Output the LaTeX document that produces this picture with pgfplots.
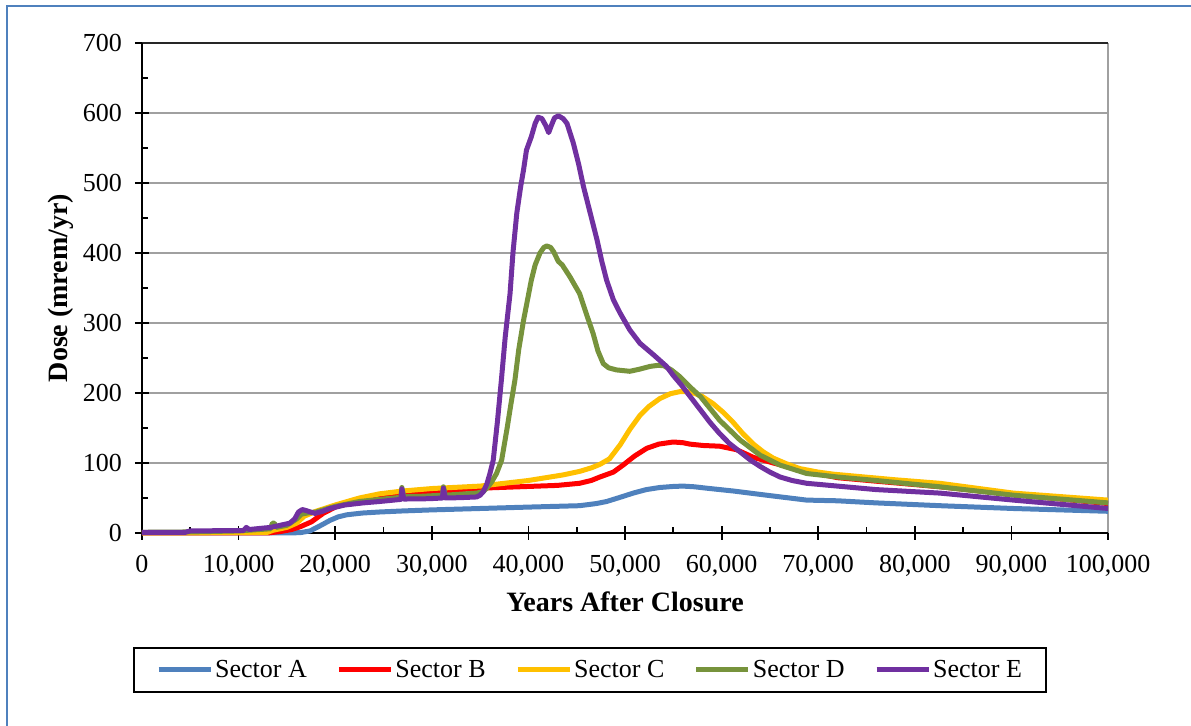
\documentclass[border=0pt]{standalone}
\usepackage{fontspec}
\setmainfont{Liberation Serif}
\usepackage{pgfplots}
\pgfplotsset{compat=1.18}
\definecolor{cA}{HTML}{4F81BD}
\definecolor{cB}{HTML}{FF0000}
\definecolor{cC}{HTML}{FFC000}
\definecolor{cD}{HTML}{77933C}
\definecolor{cE}{HTML}{7030A0}
\definecolor{frame}{HTML}{4F81BD}
\definecolor{gridc}{HTML}{A0A0A0}
\begin{document}
\begin{tikzpicture}[x=1pt,y=1pt]
\useasboundingbox (0,0) rectangle (595.5,-363);
\draw[frame, line width=1pt] (3.5,-363) -- (3.5,-3) -- (595.5,-3);
\begin{axis}[
  at={(71pt,-266.5pt)}, anchor=south west,
  width=483pt, height=245pt, scale only axis,
  xmin=0, xmax=100000, ymin=0, ymax=700,
  xtick={0,10000,...,100000}, ytick={0,100,...,700},
  xticklabels={0,{10,000},{20,000},{30,000},{40,000},{50,000},{60,000},{70,000},{80,000},{90,000},{100,000}},
  yticklabels={0,100,200,300,400,500,600,700},
  minor x tick num=1, minor y tick num=1,
  tick pos=left,
  scaled x ticks=false,
  xticklabel style={font=\fontsize{13}{15}\selectfont, yshift=-4pt},
  yticklabel style={font=\fontsize{13}{15}\selectfont, xshift=-3pt},
  axis line style={draw=none},
  ymajorgrids, major grid style={draw=gridc, line width=0.9pt},
  tick style={black, line width=0.9pt},
  major tick length=7pt, minor tick length=3pt, tick align=center,
  minor x tick style={yshift=1.5pt},
  minor y tick style={xshift=1.5pt},
  xlabel={\textbf{Years After Closure}},
  ylabel={\textbf{Dose (mrem/yr)}},
  label style={font=\fontsize{14}{16}\selectfont},
  xlabel style={yshift=-1pt},
  ylabel style={yshift=-2pt},
  legend style={at={(0.4638,-0.2796)}, anchor=center, legend columns=5,
    draw=black, line width=0.8pt, font=\fontsize{13}{15}\selectfont,
    inner xsep=11pt, inner ysep=4pt, nodes={inner xsep=1pt},
    /tikz/every odd column/.append style={column sep=0pt},
    /tikz/every even column/.append style={column sep=13.75pt}},
  legend image code/.code={\draw[#1, line width=2.5pt] (0pt,0pt) -- (26pt,0pt);},
  every axis plot/.append style={line width=2.5pt, line join=round},
  clip=false,
]
\draw[gridc, line width=0.9pt] (rel axis cs:1,0) -- (rel axis cs:1,1);
\draw[black!85, line width=1pt] (rel axis cs:0,1) -- (rel axis cs:1,1);
\draw[black, line width=1pt] (rel axis cs:0,1) -- (rel axis cs:0,0) -- (rel axis cs:1,0);
\addplot[cA] coordinates {
(0,0) (15000,0) (16400,0.5) (17400,3) (18400,10) (19460,18) (20300,23) (21200,26)
(22800,28.5) (24600,30) (27000,31.5) (30000,33) (35000,35) (40000,37) (45300,39)
(47000,42) (48100,45) (49500,51) (50850,57) (52200,62) (53600,65) (55000,66.5)
(56000,67) (57200,66) (58450,64) (61200,60) (64650,54) (68800,47) (72000,46)
(76000,43) (82600,39) (90200,35) (100000,31)};
\addlegendentry{Sector A}
\addplot[cB] coordinates {
(0,0) (13000,0) (14300,2) (15500,5) (16400,9) (17550,16) (18750,28) (20150,38)
(22500,47) (25000,53) (30000,59) (35000,64) (40000,66.5) (43000,68) (45300,71)
(46500,75) (47400,80) (48800,87) (49800,97) (51000,110) (52250,121) (53500,127)
(55000,130) (56000,129) (56700,127) (58100,125) (59800,124) (61550,119) (63300,108)
(65350,100) (68800,88) (72000,79) (76000,74) (82600,66) (90200,55) (100000,42)};
\addlegendentry{Sector B}
\addplot[cC] coordinates {
(0,0) (10000,0.5) (13000,1) (13600,4) (15000,8) (16000,14) (16800,24) (18000,31)
(20000,40) (22500,50) (24600,56) (27000,60) (30000,63.5) (35000,67) (40000,75)
(43600,83) (45300,88) (46500,93) (47400,98) (48400,106) (49500,126) (50500,148)
(51550,168) (52500,181) (53600,192) (54700,199) (55700,202) (56500,202) (57100,200)
(58000,195) (59100,185) (60200,172) (61200,158) (62200,142) (63300,127) (64300,116)
(65350,107) (66700,99) (68100,92) (70000,87) (71600,84) (74000,81) (78000,76)
(82600,71) (90200,57) (100000,47)};
\addlegendentry{Sector C}
\addplot[cD] coordinates {
(0,1) (5000,1.5) (10000,3) (13300,6) (13500,14) (13700,14) (13900,8) (15000,11)
(16000,20) (16500,27) (17300,29) (18000,30) (20000,38) (22500,45) (24600,48)
(26800,51) (26900,65) (27100,52) (29000,52.5) (31100,54) (31200,66) (31400,54)
(33000,55.5) (34650,57) (35300,59) (35700,64) (36200,73) (36700,85) (37230,104)
(37800,150) (38200,185) (38600,218) (39000,262) (39500,304) (40300,361) (40700,383)
(41200,400) (41600,408) (41900,410) (42300,408) (42600,402) (43100,388) (43500,383)
(44300,366) (45300,342) (46000,313) (46700,285) (47200,260) (47750,242) (48300,236)
(49100,233) (50500,231) (51500,234) (52600,238) (53400,239.5) (54000,239) (54800,233)
(55700,223) (56700,209) (57800,195) (58800,178) (59800,161) (61900,133) (64000,111)
(66050,97) (68800,85) (72000,80) (76000,75) (82600,66) (90200,54) (100000,43)};
\addlegendentry{Sector D}
\addplot[cE] coordinates {
(0,1) (4500,1) (5000,3) (10500,3.5) (10800,8) (11100,5) (13300,8) (14300,11)
(15300,14) (15800,20) (16200,30) (16600,33.5) (17000,32) (17900,28) (18700,31)
(19460,35) (21000,40) (22900,43) (24600,45) (26800,48) (26900,63) (27100,48.5)
(29800,49) (31100,50) (31200,64) (31400,50) (33000,50.5) (34650,51.5) (35000,54)
(35330,59) (35700,70) (36020,85) (36360,104) (36800,160) (37200,218) (37600,280)
(38100,342) (38400,400) (38800,457) (39200,495) (39500,519) (39800,547) (40300,566)
(40700,585) (41000,594) (41400,592) (41800,582) (42100,572) (42400,583) (42700,593)
(43100,596) (43600,592) (44000,585) (44650,557) (45200,527) (45700,495) (46400,457)
(47100,419) (47600,388) (48100,361) (48800,333) (49500,314) (50500,290) (51550,271)
(53000,254) (54300,238) (55000,225) (55800,212) (56800,194) (57800,176) (58800,158)
(59800,142) (60800,128) (61900,116) (63000,104) (64000,95) (65000,87) (66050,80)
(67300,75) (68800,71) (72000,67) (76000,62) (82600,57) (90200,47) (100000,35)};
\addlegendentry{Sector E}
\end{axis}
\end{tikzpicture}
\end{document}
